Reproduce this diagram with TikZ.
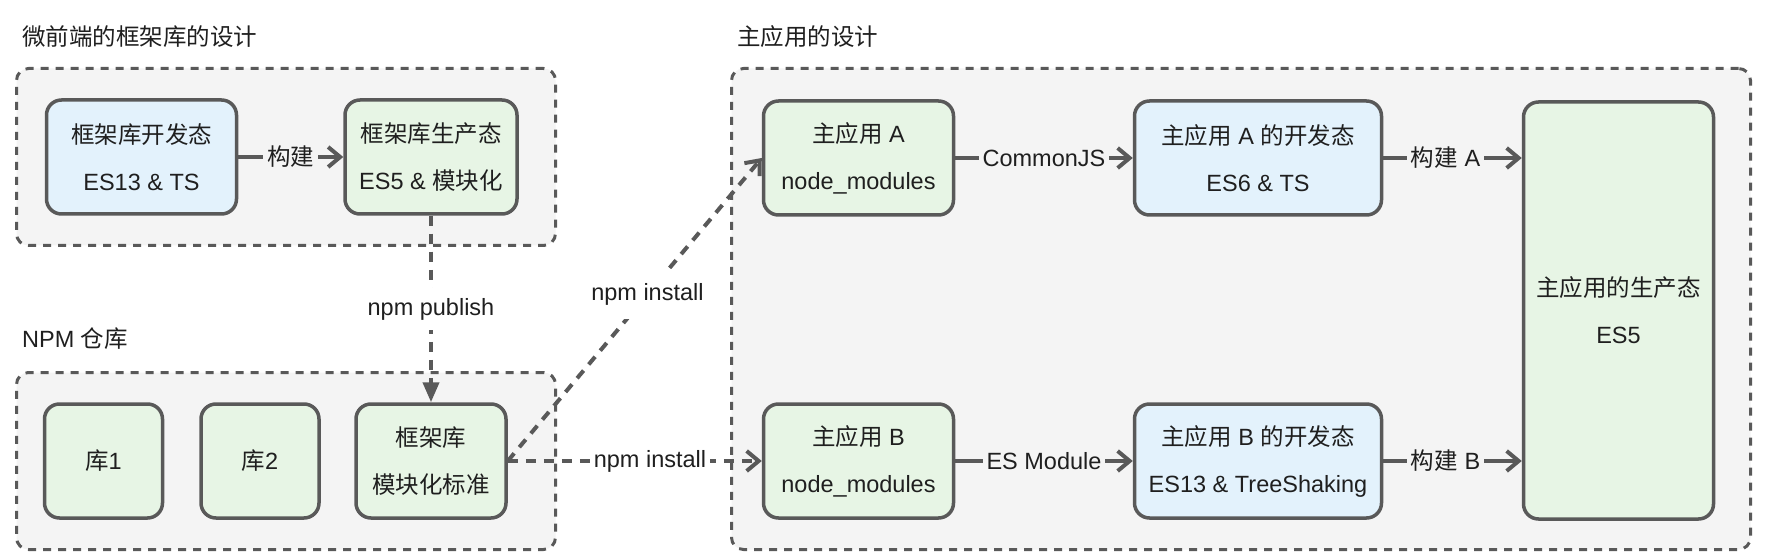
\documentclass[tikz,border=0pt]{standalone}
\usepackage{fontspec}
\setmainfont{Liberation Sans}
\newfontfamily\cjk{Noto Sans CJK SC}
\newcommand{\zh}[1]{{\cjk #1}}
\usetikzlibrary{arrows.meta}
\definecolor{edge}{HTML}{595959}
\definecolor{grp}{HTML}{F4F4F4}
\definecolor{bluef}{HTML}{E3F2FC}
\definecolor{greenf}{HTML}{E7F5E5}
\definecolor{txt}{HTML}{1F1F1F}
\begin{document}
\begin{tikzpicture}[x=1pt,y=-1pt,
  every node/.style={text=txt, font=\fontsize{23.5}{47}\selectfont},
  grpbox/.style={draw=edge, fill=grp, line width=3pt, dash pattern=on 8pt off 7pt, rounded corners=12pt, inner sep=0pt},
  card/.style={draw=edge, line width=3.5pt, rounded corners=15pt, align=center, inner sep=0pt},
  blu/.style={card, fill=bluef},
  grn/.style={card, fill=greenf},
  flow/.style={draw=edge, line width=4pt, -{Straight Barb[length=12pt,width=20pt]}},
  dflow/.style={flow, dash pattern=on 10pt off 8pt},
  lbl/.style={inner xsep=4pt, inner ysep=10pt, fill=grp, font=\fontsize{23.5}{28}\selectfont},
  wlbl/.style={lbl, fill=white},
  title/.style={anchor=west, inner sep=0pt, font=\fontsize{23.5}{28}\selectfont}
]
\useasboundingbox[fill=white] (0,0) rectangle (1770,556);

% group boxes
\node[grpbox, minimum width=539pt, minimum height=177pt] (g1) at (286,157) {};
\node[grpbox, minimum width=539pt, minimum height=177pt] (g2) at (286,461) {};
\node[grpbox, minimum width=1019pt, minimum height=481pt] (g3) at (1241,309) {};

% titles
\node[title] (t1) at (22,37) {\zh{微前端的框架库的设计}};
\node[title] (t2) at (22,339) {NPM \zh{仓库}};
\node[title] (t3) at (737,37) {\zh{主应用的设计}};

% framework library design
\node[blu, minimum width=190pt, minimum height=114pt] (n1) at (141.5,157) {\zh{框架库开发态}\\ES13 \& TS};
\node[grn, minimum width=172pt, minimum height=114pt] (n2) at (431,157) {\zh{框架库生产态}\\ES5 \& \zh{模块化}};

% npm registry
\node[grn, minimum width=118pt, minimum height=114pt] (l1) at (103.5,461) {\zh{库}1};
\node[grn, minimum width=118pt, minimum height=114pt] (l2) at (260,461) {\zh{库}2};
\node[grn, minimum width=150pt, minimum height=114pt] (lib) at (431,461) {\zh{框架库}\\\zh{模块化标准}};

% main application design
\node[grn, minimum width=190pt, minimum height=114pt] (appA) at (858.5,158) {\zh{主应用} A\\node\_modules};
\node[blu, minimum width=247pt, minimum height=114pt] (devA) at (1258,158) {\zh{主应用} A \zh{的开发态}\\ES6 \& TS};
\node[grn, minimum width=190pt, minimum height=417pt] (prod) at (1618.5,310.5) {\zh{主应用的生产态}\\ES5};
\node[grn, minimum width=190pt, minimum height=114pt] (appB) at (858.5,461) {\zh{主应用} B\\node\_modules};
\node[blu, minimum width=247pt, minimum height=114pt] (devB) at (1258,461) {\zh{主应用} B \zh{的开发态}\\ES13 \& TreeShaking};

% connectors
\draw[flow] (n1) -- node[lbl]{\zh{构建}} (n2);
\draw[dflow, -{Triangle[length=20pt,width=16pt]}] (n2) -- node[wlbl]{npm publish} (lib);
\draw[dflow] (lib.east) -- node[wlbl, pos=0.55, inner ysep=14pt]{npm install} (appA.west);
\draw[dflow] (lib.east) -- node[wlbl, pos=0.56]{npm install} (appB.west);
\draw[flow] (appA) -- node[lbl]{CommonJS} (devA);
\draw[flow] (appB) -- node[lbl]{ES Module} (devB);
\draw[flow] (devA.east) -- node[lbl, pos=0.45]{\zh{构建} A} (devA.east -| prod.west);
\draw[flow] (devB.east) -- node[lbl, pos=0.45]{\zh{构建} B} (devB.east -| prod.west);
\end{tikzpicture}
\end{document}
